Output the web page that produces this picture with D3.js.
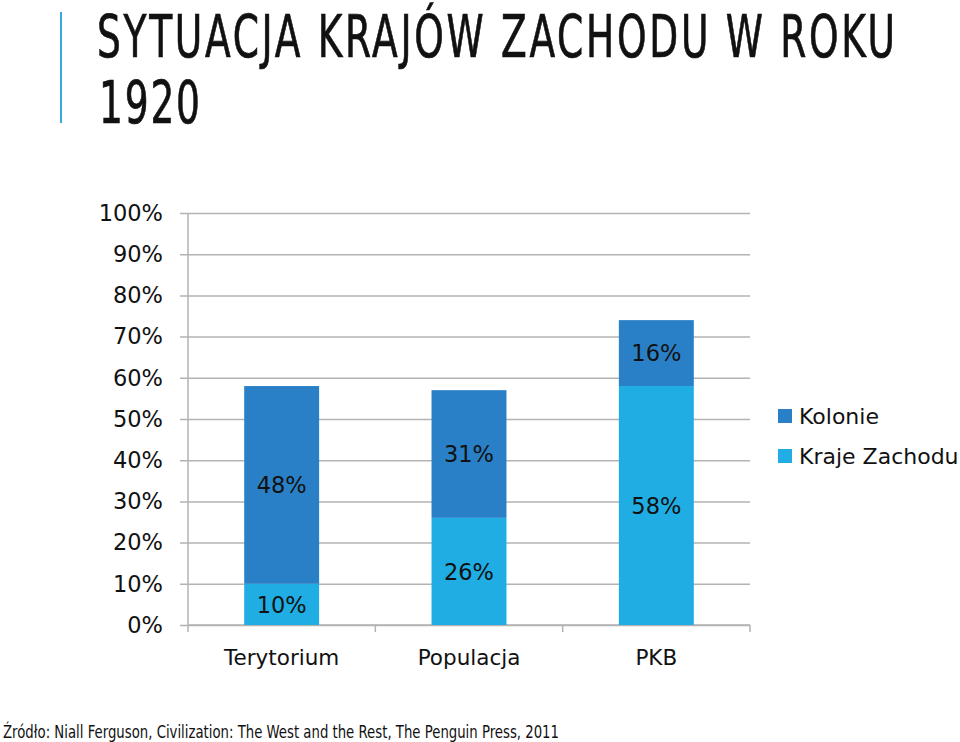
<!DOCTYPE html>
<html>
<head>
<meta charset="utf-8">
<script src="https://cdn.jsdelivr.net/npm/d3@7"></script>
<style>
  body { margin: 0; background: #fff; }
  svg { display: block; }
  text { font-family: "DejaVu Sans", sans-serif; fill: #111; }
</style>
</head>
<body>
<svg width="960" height="742"></svg>
<script>
  var categories = ["Terytorium", "Populacja", "PKB"];
  var seriesNames = ["Kraje Zachodu", "Kolonie"];
  var krajeZachodu = [0.10, 0.26, 0.58];
  var kolonie = [0.48, 0.31, 0.16];
  var yTicks = [0, 0.1, 0.2, 0.3, 0.4, 0.5, 0.6, 0.7, 0.8, 0.9, 1.0];
  var colors = { "Kraje Zachodu": "#1fade3", "Kolonie": "#2a80c6" };

  var svg = d3.select("svg");

  // title, condensed glyphs with wide tracking
  var sx = 0.72;
  svg.append("line")
      .attr("x1", 61).attr("x2", 61).attr("y1", 12).attr("y2", 123)
      .attr("stroke", "#3aa6dc").attr("stroke-width", 2);

  [["SYTUACJA KRAJÓW ZACHODU W ROKU", 97, 57, 798], ["1920", 99, 123, 101]].forEach(function(t) {
    svg.append("text")
        .attr("transform", "translate(" + t[1] + "," + t[2] + ") scale(" + sx + ",1)")
        .attr("textLength", t[3] / sx).attr("lengthAdjust", "spacing")
        .style("font-size", "58px")
        .style("font-family", "'DejaVu Sans Condensed', 'DejaVu Sans', sans-serif")
        .style("stroke", "#111").style("stroke-width", 0.7)
        .text(t[0]);
  });

  var x = d3.scaleBand().domain(categories).range([188, 750]);
  var y = d3.scaleLinear().domain([0, 1]).range([625, 213]);
  var barW = x.bandwidth() * 0.4;

  // gridlines + y labels
  var yAxis = d3.axisLeft(y).tickValues(yTicks).tickFormat(d3.format(".0%"))
      .tickSize(-(750 - 180)).tickPadding(17);
  var gy = svg.append("g").attr("transform", "translate(180,0)").call(yAxis);
  gy.select(".domain").remove();
  gy.selectAll(".tick line").attr("stroke", "#b3b3b3").attr("stroke-width", 1.5)
      .attr("x1", 0).attr("x2", 750 - 180);
  gy.selectAll(".tick text").style("font-size", "22.5px").attr("fill", "#111").attr("x", -17);

  // vertical axis line
  svg.append("line")
      .attr("x1", 188).attr("x2", 188).attr("y1", 213).attr("y2", 625)
      .attr("stroke", "#b3b3b3").attr("stroke-width", 1.5);

  // bottom axis
  svg.append("line")
      .attr("x1", 188).attr("x2", 750).attr("y1", 625).attr("y2", 625)
      .attr("stroke", "#b3b3b3").attr("stroke-width", 1.5);
  var bounds = categories.map(function(c) { return x(c); }).concat([750]);
  svg.selectAll("line.xtick").data(bounds).enter()
      .append("line").attr("class", "xtick")
      .attr("x1", function(d) { return d; }).attr("x2", function(d) { return d; })
      .attr("y1", 625).attr("y2", 632)
      .attr("stroke", "#b3b3b3").attr("stroke-width", 1.5);
  svg.selectAll("text.xlab").data(categories).enter()
      .append("text").attr("class", "xlab")
      .attr("x", function(d) { return x(d) + x.bandwidth() / 2; })
      .attr("y", 665)
      .attr("text-anchor", "middle")
      .style("font-size", "21.5px")
      .text(function(d) { return d; });

  // stacked bars
  var rows = categories.map(function(c, i) {
    return { cat: c, "Kraje Zachodu": krajeZachodu[i], "Kolonie": kolonie[i] };
  });
  var stacked = d3.stack().keys(seriesNames)(rows);

  var layers = svg.selectAll("g.layer").data(stacked).enter()
      .append("g").attr("class", "layer")
      .attr("fill", function(d) { return colors[d.key]; });

  layers.selectAll("rect").data(function(d) { return d; }).enter()
      .append("rect")
      .attr("x", function(d) { return x(d.data.cat) + (x.bandwidth() - barW) / 2; })
      .attr("width", barW)
      .attr("y", function(d) { return y(d[1]); })
      .attr("height", function(d) { return y(d[0]) - y(d[1]); });

  layers.selectAll("text").data(function(d) { return d; }).enter()
      .append("text")
      .attr("x", function(d) { return x(d.data.cat) + x.bandwidth() / 2; })
      .attr("y", function(d) { return (y(d[0]) + y(d[1])) / 2; })
      .attr("dy", "0.36em")
      .attr("text-anchor", "middle")
      .style("font-size", "22.5px")
      .style("fill", "#111")
      .text(function(d) { return Math.round((d[1] - d[0]) * 100) + "%"; });

  // legend
  var legendOrder = ["Kolonie", "Kraje Zachodu"];
  var legend = svg.selectAll("g.legend").data(legendOrder).enter()
      .append("g").attr("class", "legend")
      .attr("transform", function(d, i) { return "translate(778," + (409 + i * 40) + ")"; });
  legend.append("rect").attr("width", 14).attr("height", 14)
      .attr("fill", function(d) { return colors[d]; });
  legend.append("text").attr("x", 21).attr("y", 15)
      .style("font-size", "22px")
      .text(function(d) { return d; });

  // source
  svg.append("text")
      .attr("x", 3).attr("y", 738)
      .attr("textLength", 556).attr("lengthAdjust", "spacingAndGlyphs")
      .style("font-size", "17px")
      .text("Źródło: Niall Ferguson, Civilization: The West and the Rest, The Penguin Press, 2011");
</script>
</body>
</html>
